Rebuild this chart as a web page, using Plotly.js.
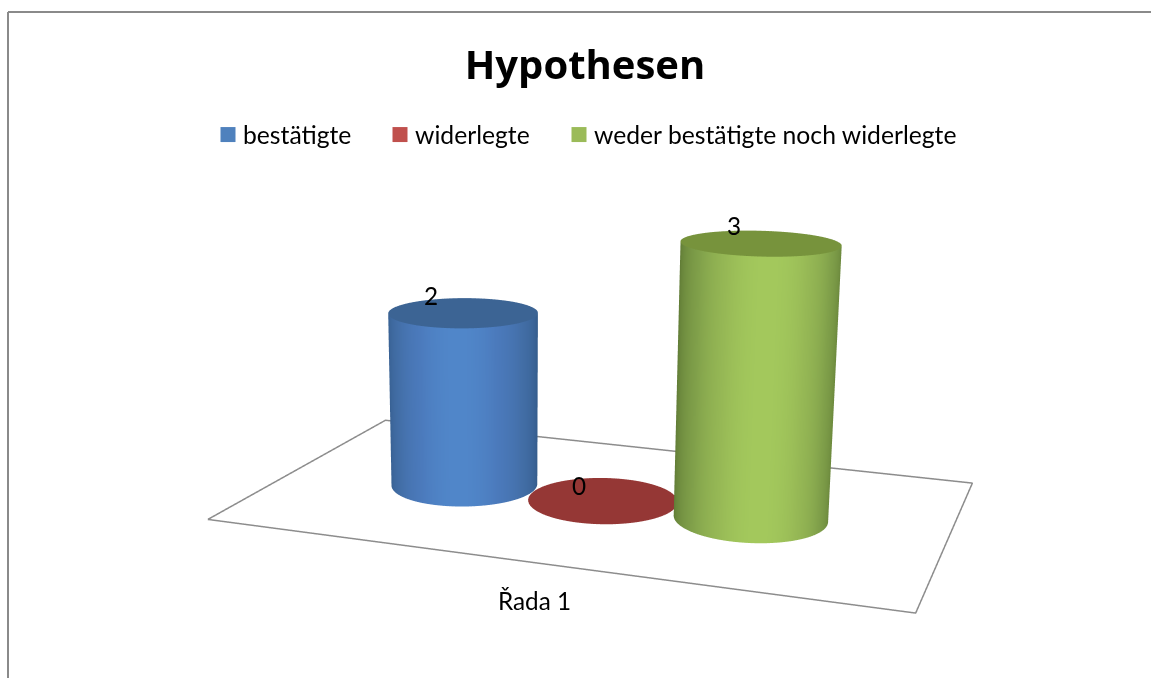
<!DOCTYPE html>
<html><head><meta charset="utf-8">
<script src="https://cdn.plot.ly/plotly-3.0.1.min.js"></script>
<style>html,body{margin:0;padding:0;background:#fff;overflow:hidden;width:1151px;height:678px}
#c{position:absolute;left:-560px;top:-300px;width:2302px;height:1400px}</style>
</head><body><div id="c"></div>
<script>
const chartTitle = "Hypothesen";
const category = "Řada 1";
const seriesNames = ["bestätigte", "widerlegte", "weder bestätigte noch widerlegte"];
const seriesValues = [2, 0, 3];
const legendColors = ["#4f81bd", "#c0504d", "#9bbb59"];
const capColors = ["#3c6494", "#953735", "#77933c"];
const sideEdge = ["#335a88", "#953735", "#5f7a35"];
const sideMid = ["#436fa8", "#953735", "#80a04a"];
const sideNear = ["#4b7abc", "#953735", "#96b855"];
const sideLight = ["#5086c9", "#953735", "#a3c85c"];
const columnPos = [-1.0, -0.015, 0.98];
const legendX = [203, 375, 554];
const labelShiftX = [-32, -24, -27];
const labelShiftY = [17, 15, 18];

const W = 2302, H = 1400, offX = 560, offY = 300;
const px = x => (x + offX) / W, py = y => 1 - (y + offY) / H;

const eye = {x: 0.9374, y: -2.722, z: 0.75};
const phi = Math.atan2(eye.y, eye.x);
const R = 0.49, N = 120;
const thetas = Array.from({length:N+1}, (_,i)=>i/N*2*Math.PI);
const traces = [];
const flat = {ambient:1,diffuse:0,specular:0,roughness:1,fresnel:0};
const floorLeft = -2.205, floorRight = 2.22, floorFront = -1.269, floorBack = 1.269;

traces.push({type:'scatter3d',mode:'lines',
  x:[floorLeft,floorRight,floorRight,floorLeft,floorLeft],y:[floorFront,floorFront,floorBack,floorBack,floorFront],z:[0,0,0,0,0],
  line:{color:'#8c8c8c',width:3},showlegend:false,hoverinfo:'skip'});

seriesValues.forEach((h,i)=>{
  const cx = columnPos[i];
  if(h>0){
    const xr = thetas.map(t=>cx+R*Math.cos(t)), yr = thetas.map(t=>R*Math.sin(t));
    const shade = thetas.map(t=>Math.max(0,Math.cos(t-phi)));
    traces.push({type:'surface',showscale:false,hoverinfo:'skip',lighting:flat,cmin:0,cmax:1,
      colorscale:[[0,sideEdge[i]],[0.6,sideMid[i]],[0.87,sideNear[i]],[1,sideLight[i]]],
      x:[xr,xr],y:[yr,yr],z:[thetas.map(()=>0),thetas.map(()=>h)],surfacecolor:[shade,shade]});
  }
  traces.push({type:'surface',showscale:false,hoverinfo:'skip',lighting:flat,cmin:0,cmax:1,
    colorscale:[[0,capColors[i]],[1,capColors[i]]],
    x:[thetas.map(()=>cx),thetas.map(t=>cx+R*Math.cos(t))],
    y:[thetas.map(()=>0),thetas.map(t=>R*Math.sin(t))],
    z:[thetas.map(()=>h),thetas.map(()=>h)],
    surfacecolor:[thetas.map(()=>0.5),thetas.map(()=>0.5)]});
  traces.push({type:'scatter3d',mode:'markers',x:[null],y:[null],z:[null],name:seriesNames[i],
    legend:i===0?'legend':'legend'+(i+1),
    marker:{symbol:'square',size:15,color:legendColors[i]},showlegend:true,hoverinfo:'skip'});
});

const hiddenAxis = r => ({range:r,visible:false,showgrid:false,zeroline:false,showticklabels:false,showspikes:false,title:{text:''}});
const labelFont = {family:'Lato, sans-serif',size:24.3,color:'#000'};
const legendBase = i => ({orientation:'h',x:px(legendX[i]),xanchor:'left',y:py(135),yanchor:'middle',bgcolor:'rgba(0,0,0,0)',
  font:{family:'Lato, sans-serif',size:24.7,color:'#000'},itemclick:false,itemdoubleclick:false});
const layout = {
  width:W,height:H,margin:{l:0,r:0,t:0,b:0,pad:0},paper_bgcolor:'#fff',showlegend:true,
  title:{text:chartTitle,x:px(585),xanchor:'center',y:py(65),yanchor:'middle',font:{family:'Open Sans, sans-serif',size:40,color:'#000',weight:700}},
  legend:legendBase(0),legend2:legendBase(1),legend3:legendBase(2),
  scene:{domain:{x:[0,1],y:[0,1]},aspectmode:'manual',aspectratio:{x:2,y:2,z:1.5},dragmode:'orbit',
    xaxis:hiddenAxis([-3.302,3.559]),yaxis:hiddenAxis([-4.11,2.751]),zaxis:hiddenAxis([-2.914,5.827]),
    bgcolor:'rgba(0,0,0,0)',camera:{eye:eye,up:{x:-0.0108,y:-0.0037,z:1},center:{x:0,y:0,z:0}},
    annotations:[
      ...seriesValues.map((h,i)=>({x:columnPos[i],y:0,z:h,text:String(h),showarrow:false,font:labelFont,xshift:labelShiftX[i],yshift:labelShiftY[i]})),
      {x:0.206,y:-1.832,z:0,text:category,showarrow:false,font:labelFont}
    ]},
  shapes:[
    {type:'line',xref:'paper',yref:'paper',x0:px(8),x1:px(1151),y0:py(12),y1:py(12),line:{color:'#8a8a8a',width:2}},
    {type:'line',xref:'paper',yref:'paper',x0:px(8),x1:px(8),y0:py(678),y1:py(12),line:{color:'#8a8a8a',width:2}}
  ]
};
Plotly.newPlot('c',traces,layout,{displayModeBar:false}).then(()=>{
  document.querySelectorAll('.legendsymbols').forEach(g=>g.setAttribute('transform','translate(5,0)'));
});
</script></body></html>
